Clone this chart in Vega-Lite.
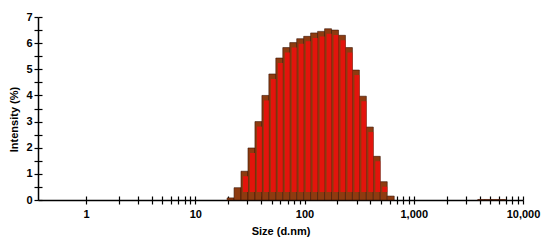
{
  "$schema": "https://vega.github.io/schema/vega-lite/v6.json",
  "width": 485,
  "height": 183,
  "autosize": "none",
  "padding": {"left": 38, "top": 17, "right": 27, "bottom": 45},
  "config": {
    "view": {"stroke": null},
    "font": "Liberation Sans",
    "axis": {
      "domainColor": "#000000",
      "domainWidth": 1.5,
      "tickColor": "#000000",
      "tickWidth": 1.2,
      "tickSize": 4,
      "grid": false,
      "labelFont": "Liberation Sans",
      "labelFontWeight": "bold",
      "labelFontSize": 11,
      "labelColor": "#000000",
      "titleFont": "Liberation Sans",
      "titleFontWeight": "bold",
      "titleFontSize": 11,
      "titleColor": "#000000",
      "labelOverlap": false,
      "labelBound": false,
      "labelFlush": false
    }
  },
  "data": {
    "values": [
      {"lo": 19.55, "hi": 22.64, "intensity": 0.08},
      {"lo": 22.64, "hi": 26.21, "intensity": 0.47},
      {"lo": 26.21, "hi": 30.36, "intensity": 1.1},
      {"lo": 30.36, "hi": 35.16, "intensity": 1.99},
      {"lo": 35.16, "hi": 40.72, "intensity": 3.0},
      {"lo": 40.72, "hi": 47.16, "intensity": 4.0},
      {"lo": 47.16, "hi": 54.61, "intensity": 4.82},
      {"lo": 54.61, "hi": 63.25, "intensity": 5.43},
      {"lo": 63.25, "hi": 73.24, "intensity": 5.83},
      {"lo": 73.24, "hi": 84.82, "intensity": 6.02},
      {"lo": 84.82, "hi": 98.23, "intensity": 6.17},
      {"lo": 98.23, "hi": 113.7, "intensity": 6.26},
      {"lo": 113.7, "hi": 131.7, "intensity": 6.39},
      {"lo": 131.7, "hi": 152.6, "intensity": 6.45},
      {"lo": 152.6, "hi": 176.7, "intensity": 6.55},
      {"lo": 176.7, "hi": 204.6, "intensity": 6.5},
      {"lo": 204.6, "hi": 236.9, "intensity": 6.3},
      {"lo": 236.9, "hi": 274.4, "intensity": 5.83},
      {"lo": 274.4, "hi": 317.8, "intensity": 4.97},
      {"lo": 317.8, "hi": 368.1, "intensity": 3.97},
      {"lo": 368.1, "hi": 426.3, "intensity": 2.79},
      {"lo": 426.3, "hi": 493.6, "intensity": 1.67},
      {"lo": 493.6, "hi": 571.6, "intensity": 0.7},
      {"lo": 571.6, "hi": 662.0, "intensity": 0.15},
      {"lo": 3852, "hi": 4460, "intensity": 0.02},
      {"lo": 4460, "hi": 5166, "intensity": 0.02},
      {"lo": 5166, "hi": 5983, "intensity": 0.02},
      {"lo": 5983, "hi": 6929, "intensity": 0.02}
    ]
  },
  "resolve": {"axis": {"x": "independent", "y": "independent"}},
  "layer": [
    {
      "mark": {"type": "bar", "fill": "#8e3b10", "stroke": "#3a1405", "strokeWidth": 0.6},
      "encoding": {
        "x": {
          "field": "lo", "type": "quantitative",
          "scale": {"type": "log", "domain": [0.3631, 10000]},
          "axis": {
            "orient": "bottom",
            "title": "Size (d.nm)",
            "titlePadding": 6,
            "values": [1,2,3,4,5,6,7,8,9,10,20,30,40,50,60,70,80,90,100,200,300,400,500,600,700,800,900,1000,2000,3000,4000,5000,6000,7000,8000,9000,10000],
            "labelExpr": "indexof([1,10,100,1000,10000], datum.value) >= 0 ? format(datum.value, ',') : ''",
            "labelPadding": 4
          }
        },
        "x2": {"field": "hi"},
        "y": {
          "field": "intensity", "type": "quantitative",
          "scale": {"domain": [0, 7]},
          "axis": {
            "orient": "left",
            "title": "Intensity (%)",
            "titleX": -24,
            "titleY": 102,
            "titleAngle": -90,
            "titleBaseline": "middle",
            "titleAlign": "center",
            "values": [0,0.5,1,1.5,2,2.5,3,3.5,4,4.5,5,5.5,6,6.5,7],
            "labelExpr": "datum.value % 1 === 0 ? format(datum.value, 'd') : ''",
            "labelPadding": 2
          }
        },
        "y2": {"datum": 0}
      }
    },
    {
      "transform": [{"filter": "datum.intensity > 0.6"}],
      "mark": {"type": "bar", "fill": "#e3140c", "xOffset": 2, "yOffset": 5, "y2Offset": -8},
      "encoding": {
        "x": {
          "field": "lo", "type": "quantitative",
          "scale": {"type": "log", "domain": [0.3631, 10000]},
          "axis": {
            "orient": "bottom",
            "offset": -4,
            "domain": false,
            "labels": false,
            "title": null,
            "values": [1,2,3,4,5,6,7,8,9,10,20,30,40,50,60,70,80,90,100,200,300,400,500,600,700,800,900,1000,2000,3000,4000,5000,6000,7000,8000,9000,10000]
          }
        },
        "x2": {"field": "hi"},
        "y": {
          "field": "intensity", "type": "quantitative",
          "scale": {"domain": [0, 7]},
          "axis": {
            "orient": "left",
            "offset": -4,
            "domain": false,
            "labels": false,
            "title": null,
            "values": [0,0.5,1,1.5,2,2.5,3,3.5,4,4.5,5,5.5,6,6.5,7]
          }
        },
        "y2": {"datum": 0}
      }
    }
  ]
}
